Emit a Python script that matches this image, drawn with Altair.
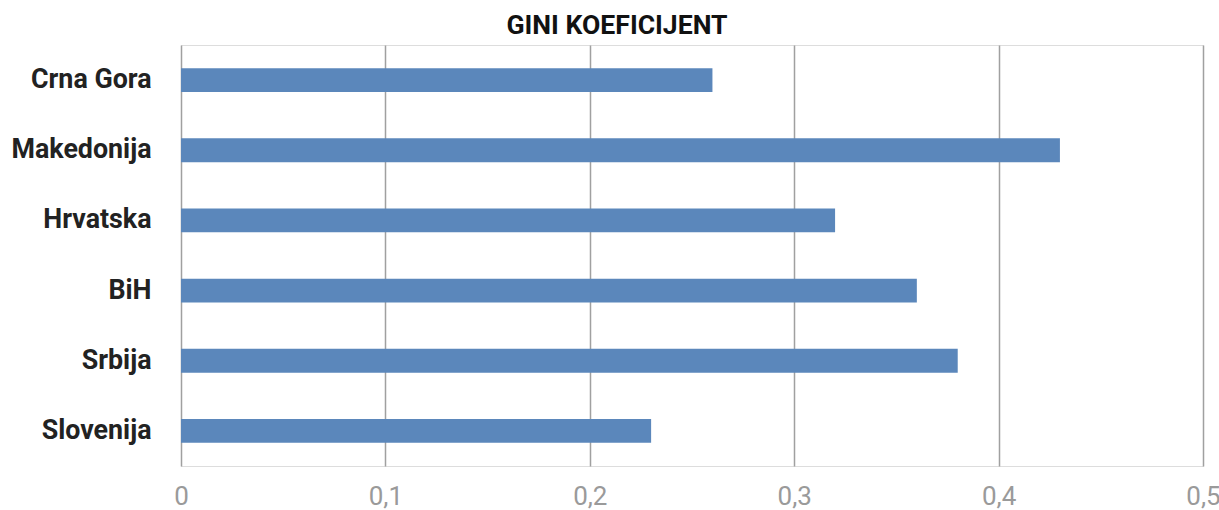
import altair as alt
import pandas as pd

# Gini coefficient by country
countries = ["Crna Gora", "Makedonija", "Hrvatska", "BiH", "Srbija", "Slovenija"]
gini = [0.26, 0.43, 0.32, 0.36, 0.38, 0.23]
x_ticks = [0, 0.1, 0.2, 0.3, 0.4, 0.5]

df = pd.DataFrame({"zemlja": countries, "gini": gini})

chart = (
    alt.Chart(df)
    .mark_bar(color="#5b87bb")
    .encode(
        x=alt.X(
            "gini:Q",
            scale=alt.Scale(domain=[0, 0.5], nice=False),
            axis=alt.Axis(
                values=x_ticks,
                title=None,
                domain=False,
                ticks=False,
                grid=True,
                gridColor="#a0a0a0",
                gridWidth=1.5,
                labelExpr="replace(format(datum.value, '~g'), '.', ',')",
                labelFont="Roboto",
                labelFontSize=26,
                labelColor="#9a9a9a",
                labelPadding=17,
                labelFlush=False,
            ),
        ),
        y=alt.Y(
            "zemlja:N",
            sort=countries,
            scale=alt.Scale(paddingInner=0.66, paddingOuter=0.33),
            axis=alt.Axis(
                title=None,
                domain=False,
                ticks=False,
                grid=False,
                labelFont="Roboto",
                labelFontWeight="bold",
                labelFontSize=26.8,
                labelColor="#222222",
                labelPadding=30,
            ),
        ),
    )
    .properties(
        width=1022,
        height=421,
        padding={"left": 181, "top": 45, "right": 16, "bottom": 44},
        autosize=alt.AutoSizeParams(type="none"),
        title=alt.TitleParams(
            "GINI KOEFICIJENT",
            font="Roboto",
            fontSize=26.6,
            fontWeight="bold",
            color="#111111",
            anchor="middle",
            dx=-75,
            offset=5,
        ),
    )
    .configure_view(stroke=None)
    .configure(background="white")
)

chart.save("out.html", embed_options={"renderer": "svg", "actions": False})
